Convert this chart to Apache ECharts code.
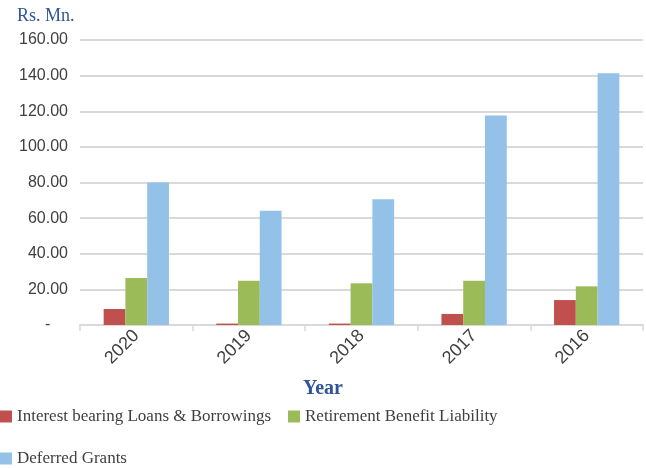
<!DOCTYPE html>
<html>
<head>
<meta charset="utf-8">
<script src="https://cdn.jsdelivr.net/npm/echarts@6/dist/echarts.min.js"></script>
<style>
  html, body { margin: 0; padding: 0; background: #fff; }
  #chart { width: 646px; height: 468px; }
</style>
</head>
<body>
<div id="chart"></div>
<script>
// Liabilities by year (Rs. Mn.)
const years = ['2020', '2019', '2018', '2017', '2016'];
const loans = [9.0, 0.8, 0.8, 6.2, 14.0];
const retirement = [26.4, 24.9, 23.4, 24.9, 21.7];
const grants = [80.0, 64.2, 70.6, 117.6, 141.4];
const seriesNames = ['Interest bearing Loans & Borrowings', 'Retirement Benefit Liability', 'Deferred Grants'];
const colors = ['#c0504d', '#9bbb59', '#94c1e8'];
const yTicks = { min: 0, max: 160, step: 20 };

const chart = echarts.init(document.getElementById('chart'), null, { renderer: 'canvas' });

const serif = '"Liberation Serif", "Times New Roman", serif';
const sans = '"Liberation Sans", Arial, sans-serif';
const legendText = { fontFamily: serif, fontSize: 17, color: '#404040' };

chart.setOption({
  animation: false,
  color: colors,
  grid: { left: 80, right: 3, top: 40, bottom: 143, containLabel: false },
  title: [
    {
      text: 'Rs. Mn.', left: 17, top: 7, padding: 0,
      textStyle: { fontFamily: serif, fontSize: 18, fontWeight: 'normal', color: '#2f5597' }
    },
    {
      text: 'Year', left: 'center', top: 379, padding: 0,
      textStyle: { fontFamily: serif, fontSize: 20, fontWeight: 'bold', color: '#2f5597' }
    }
  ],
  legend: [
    {
      data: seriesNames.slice(0, 2), left: 0, top: 408, padding: 0, itemWidth: 12, itemHeight: 12, itemGap: 17,
      icon: 'rect', textStyle: legendText
    },
    {
      data: seriesNames.slice(2), left: 0, top: 450, padding: 0, itemWidth: 12, itemHeight: 12,
      icon: 'rect', textStyle: legendText
    }
  ],
  xAxis: {
    type: 'category',
    data: years,
    axisLine: { lineStyle: { color: '#d9d9d9', width: 2 } },
    axisTick: { show: true, alignWithLabel: false, length: 6, lineStyle: { color: '#d9d9d9', width: 1.5 } },
    axisLabel: {
      rotate: 45, margin: 8, interval: 0,
      fontFamily: sans, fontSize: 18, color: '#404040'
    }
  },
  yAxis: {
    type: 'value',
    min: yTicks.min, max: yTicks.max, interval: yTicks.step,
    axisLine: { show: false },
    axisTick: { show: false },
    splitLine: { lineStyle: { color: '#d9d9d9', width: 2 } },
    axisLabel: {
      margin: 12,
      fontFamily: sans, fontSize: 16, color: '#404040',
      // zero is shown as a dash, accounting style
      formatter: v => (v === 0 ? '-    ' : v.toFixed(2))
    }
  },
  series: [
    { name: seriesNames[0], type: 'bar', data: loans, barGap: '0%', barCategoryGap: '42%' },
    { name: seriesNames[1], type: 'bar', data: retirement, barGap: '0%', barCategoryGap: '42%' },
    { name: seriesNames[2], type: 'bar', data: grants, barGap: '0%', barCategoryGap: '42%' }
  ]
});
</script>
</body>
</html>
